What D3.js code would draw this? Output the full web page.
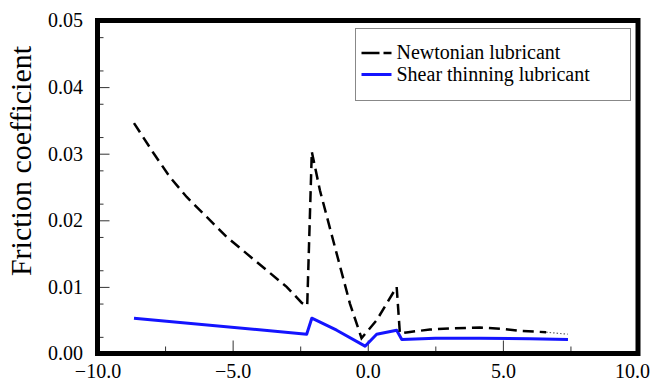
<!DOCTYPE html>
<html>
<head>
<meta charset="utf-8">
<script src="https://cdn.jsdelivr.net/npm/d3@7"></script>
<style>
    body { margin: 0; background: #fff; }
    text { font-family: 'Liberation Serif', 'Times New Roman', Times, serif; }
</style>
</head>
<body>
<div id="chart"></div>
<script>
// data
const newtonX = [-8.65, -7.93, -7.32, -6.7, -5.96, -5.22, -4.48, -3.74, -3.0, -2.44, -2.24, -2.07, -1.77, -1.15, -0.66, -0.23, 0.33, 1.07, 1.19, 1.5, 2.3, 3.2, 4.15, 5.0, 5.6, 6.6, 7.4]
const newtonY = [0.0346, 0.0301, 0.0265, 0.0235, 0.0205, 0.0175, 0.015, 0.0125, 0.01, 0.0076, 0.0072, 0.0303, 0.0245, 0.015, 0.0075, 0.0023, 0.005, 0.01, 0.003, 0.0032, 0.0036, 0.0038, 0.0039, 0.0037, 0.0034, 0.0032, 0.0029]
const shearX = [-8.65, -2.26, -2.07, -1.15, -0.1, 0.33, 1.07, 1.26, 2.5, 4.15, 6.0, 7.41]
const shearY = [0.0053, 0.0029, 0.0053, 0.0035, 0.0011, 0.0029, 0.0035, 0.0021, 0.0023, 0.0023, 0.0022, 0.0021]
const xTicks = [-10, -5, 0, 5, 10]
const xMinor = [-7.5, -2.5, 2.5, 7.5]
const yTicks = [0, 0.01, 0.02, 0.03, 0.04, 0.05]
const yMinor = [0.0025, 0.0075, 0.0125, 0.0175, 0.0225, 0.0275, 0.0325, 0.0375, 0.0425, 0.0475]
const seriesNames = ['Newtonian lubricant', 'Shear thinning lubricant']

let width = 653,
    height = 381
let margin = { top: 20.5, right: 15, bottom: 27.5, left: 97.5 },
    plotWidth = width - margin.left - margin.right,
    plotHeight = height - margin.top - margin.bottom

let svg = d3
    .select('#chart')
    .append('svg')
    .attr('width', width)
    .attr('height', height)

let g = svg.append('g').attr('transform', 'translate(' + margin.left + ',' + margin.top + ')')

let x = d3.scaleLinear().domain([-10, 10]).range([0, plotWidth])
let y = d3.scaleLinear().domain([0, 0.05]).range([plotHeight, 0])

// minor ticks
g.append('g')
    .attr('transform', 'translate(0,' + plotHeight + ')')
    .call(d3.axisBottom(x).tickValues(xMinor).tickSize(-7).tickFormat(''))
g.append('g').call(d3.axisLeft(y).tickValues(yMinor).tickSize(-6).tickFormat(''))

// major ticks + labels
let xAxis = g
    .append('g')
    .attr('transform', 'translate(0,' + plotHeight + ')')
    .call(d3.axisBottom(x).tickValues(xTicks).tickSize(-13).tickPadding(10).tickFormat(d3.format('.1f')))
let yAxis = g.append('g').call(d3.axisLeft(y).tickValues(yTicks).tickSize(-12).tickPadding(14.5).tickFormat(d3.format('.2f')))

g.selectAll('.domain').remove()
g.selectAll('.tick line').attr('stroke', '#333')
g.selectAll('.tick text')
    .attr('font-size', '20px')
    .attr('fill', '#000')
    .style('font-family', "'Liberation Serif', 'Times New Roman', serif")
// last x label sits a bit left so it is not cut by the page edge
xAxis.selectAll('.tick text').filter(d => d === 10).attr('x', -6)

// y label
svg.append('text')
    .attr('transform', 'translate(31,161) rotate(-90)')
    .style('text-anchor', 'middle')
    .attr('font-size', '30px')
    .text('Friction coefficient')

let line = d3
    .line()
    .x(d => x(d[0]))
    .y(d => y(d[1]))

let newton = newtonX.map((v, i) => [v, newtonY[i]])
let shear = shearX.map((v, i) => [v, shearY[i]])

g.append('path')
    .datum(shear)
    .attr('d', line)
    .attr('fill', 'none')
    .attr('stroke', '#1414ff')
    .attr('stroke-width', 3)
    .attr('stroke-linejoin', 'round')

g.append('path')
    .datum(newton.slice(0, -1))
    .attr('d', line)
    .attr('fill', 'none')
    .attr('stroke', '#000')
    .attr('stroke-width', 2.5)
    .attr('stroke-dasharray', '11,6')

// the last bit of the dashed curve fades into a thin dotted tail
g.append('path')
    .datum(newton.slice(-2))
    .attr('d', line)
    .attr('fill', 'none')
    .attr('stroke', '#666')
    .attr('stroke-width', 1.2)
    .attr('stroke-dasharray', '1.5,2')

// frame
g.append('rect')
    .attr('width', plotWidth)
    .attr('height', plotHeight)
    .attr('fill', 'none')
    .attr('stroke', '#000')
    .attr('stroke-width', 5)

// legend
let legend = svg.append('g').attr('transform', 'translate(355.5,28.5)')
legend.append('rect')
    .attr('width', 275)
    .attr('height', 72)
    .attr('fill', '#fff')
    .attr('stroke', '#888')
    .attr('stroke-width', 1)

legend.append('line')
    .attr('x1', 6).attr('x2', 36)
    .attr('y1', 24.5).attr('y2', 24.5)
    .attr('stroke', '#000')
    .attr('stroke-width', 2.5)
    .attr('stroke-dasharray', '18,4')
legend.append('line')
    .attr('x1', 6).attr('x2', 36)
    .attr('y1', 46).attr('y2', 46)
    .attr('stroke', '#1414ff')
    .attr('stroke-width', 3)

legend.selectAll('.label')
    .data(seriesNames)
    .enter()
    .append('text')
    .attr('x', 41)
    .attr('y', (d, i) => 30 + i * 22.5)
    .attr('font-size', '20px')
    .text(d => d)
</script>
</body>
</html>
